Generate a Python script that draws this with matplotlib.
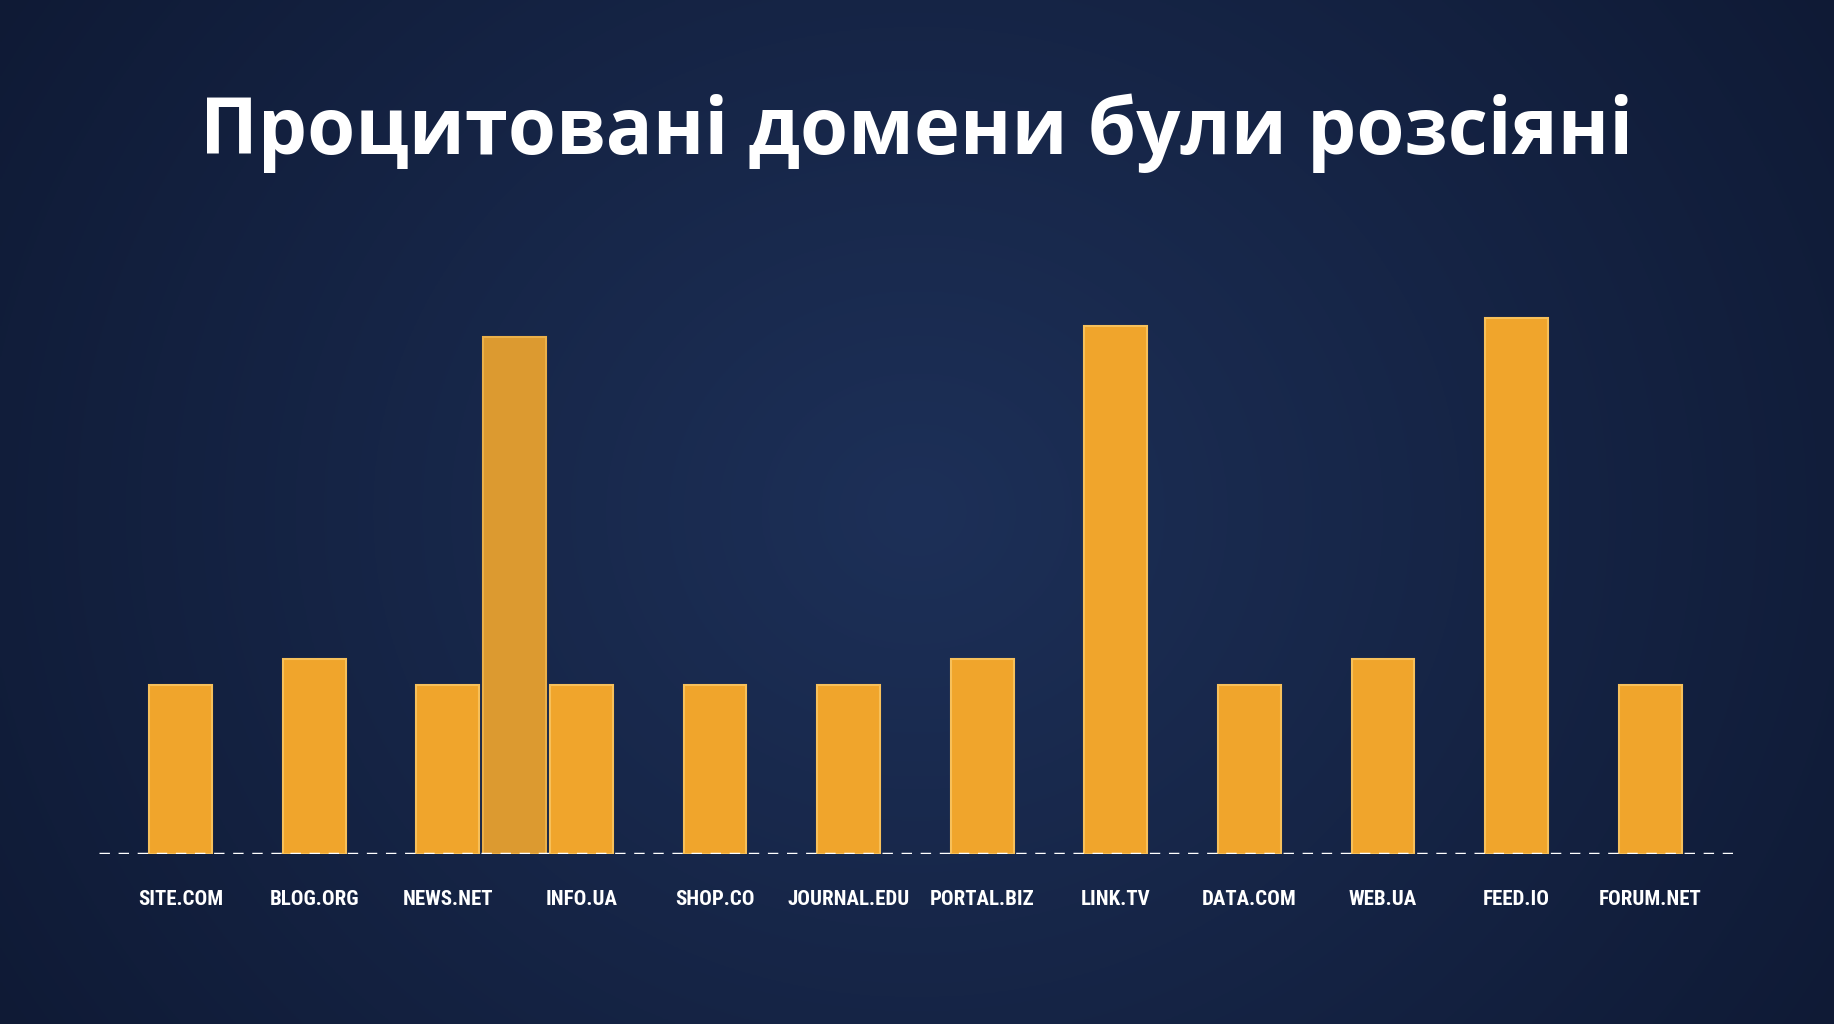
import matplotlib.pyplot as plt
import numpy as np

domains = ["SITE.COM", "BLOG.ORG", "NEWS.NET", "INFO.UA", "SHOP.CO", "JOURNAL.EDU",
           "PORTAL.BIZ", "LINK.TV", "DATA.COM", "WEB.UA", "FEED.IO", "FORUM.NET"]
values = [2.0, 2.3, 2.0, 2.0, 2.0, 2.0, 2.3, 6.23, 2.0, 2.3, 6.32, 2.0]
# extra unlabeled tall bar sitting between NEWS.NET and INFO.UA
extra_pos = 2.5
extra_value = 6.1

fig = plt.figure(figsize=(18.34, 10.24), dpi=100)

# radial navy background
bg = fig.add_axes([0, 0, 1, 1])
yy, xx = np.mgrid[0:1:400j, 0:1:700j]
r = np.sqrt(((xx - 0.5) * 1.6) ** 2 + (yy - 0.5) ** 2)
c0 = np.array([0x1d, 0x30, 0x58]) / 255
c1 = np.array([0x0f, 0x1a, 0x35]) / 255
t = np.clip(r / 0.95, 0, 1)[..., None]
bg.imshow(c0 * (1 - t) + c1 * t, extent=[0, 1, 0, 1], aspect="auto")
bg.axis("off")

fig.text(0.5, 0.87, "Процитовані домени були розсіяні", ha="center", va="center",
         color="white", fontsize=56, fontweight="bold", family=["Open Sans", "DejaVu Sans"])

ax = fig.add_axes([0.054, 0.166, 0.891, 0.634])
ax.set_facecolor("none")
ax.set_xlim(-0.61, 11.62)
ax.set_ylim(0, 7.66)

w = 0.47
ax.bar(extra_pos, extra_value, width=w, color="#dc9a30", edgecolor="#eab04a", linewidth=1.5, zorder=2)
ax.bar(np.arange(len(domains)), values, width=w, color="#f0a52c", edgecolor="#f7c05a",
       linewidth=1.5, zorder=3)

ax.axhline(0, color="white", linestyle=(0, (3, 2.5)), linewidth=2.5, zorder=4)
for s in ax.spines.values():
    s.set_visible(False)
ax.set_yticks([])
ax.set_xticks(np.arange(len(domains)))
ax.set_xticklabels(domains, color="white", fontsize=15, fontweight="bold",
                   family=["DejaVu Sans Condensed", "Roboto Condensed", "DejaVu Sans"])
for lbl in ax.get_xticklabels():
    lbl.set_fontstretch("condensed")
ax.tick_params(axis="x", length=0, pad=26)

fig.savefig("out.png", dpi=100)
